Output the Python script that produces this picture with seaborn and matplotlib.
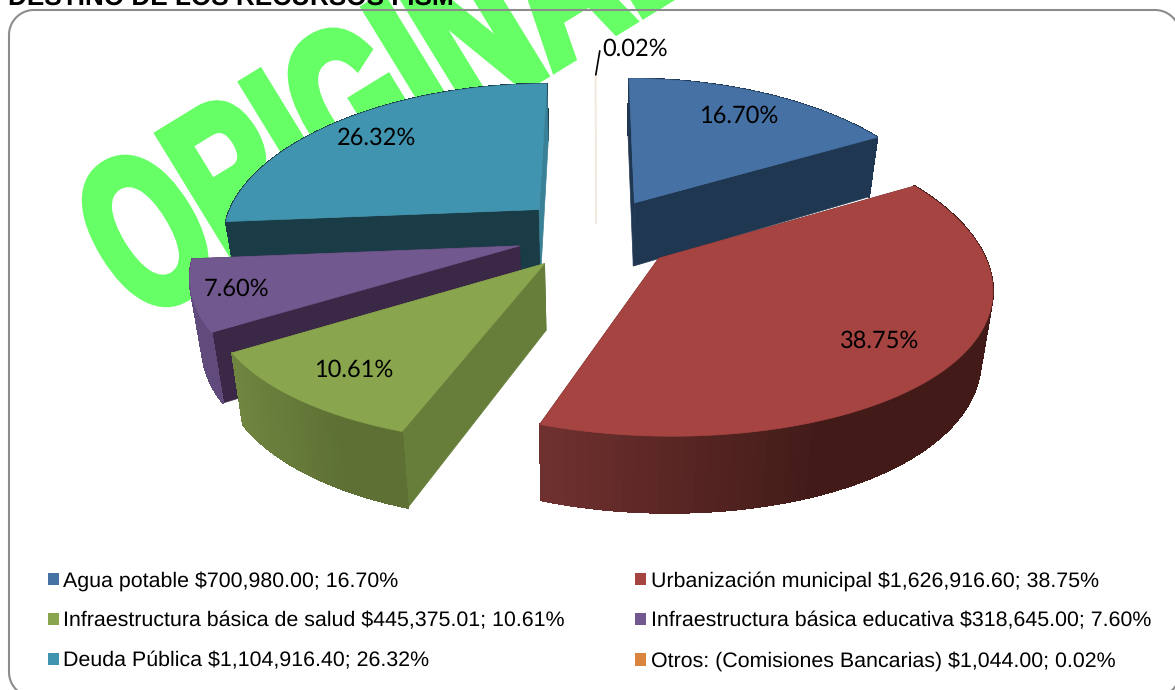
import numpy as np
import seaborn as sns
import matplotlib
matplotlib.use("Agg")
import matplotlib.pyplot as plt
import matplotlib.colors as mcolors
from matplotlib.patches import Patch
from matplotlib.patheffects import AbstractPathEffect
from matplotlib.transforms import Affine2D

# Data
names = ["Agua potable", "Urbanización municipal", "Infraestructura básica de salud",
         "Infraestructura básica educativa", "Deuda Pública", "Otros: (Comisiones Bancarias)"]
amounts = ["$700,980.00", "$1,626,916.60", "$445,375.01", "$318,645.00", "$1,104,916.40", "$1,044.00"]
percents = [16.70, 38.75, 10.61, 7.60, 26.32, 0.02]

# Colours per slice
top_colors = sns.color_palette(["#4671A5", "#A64442", "#89A54E", "#71588F", "#4194AF", "#F3E6DA"])
legend_colors = sns.color_palette(["#4671A5", "#A64442", "#89A54E", "#71588F", "#4194AF", "#DB843D"])
cut_start = ["#203752", "#421B18", "#667E3A", "#3A2846", "#1A3C47", "#F3E6DA"]
cut_end = ["#203752", "#421B18", "#667E3A", "#3A2846", "#3A8096", "#F3E6DA"]
wall_light = ["#203752", "#713230", "#6F8540", "#604B7C", "#1A3C47", "#F3E6DA"]
wall_dark = ["#203752", "#421B18", "#5E7034", "#604B7C", "#1A3C47", "#F3E6DA"]
label_radius = [0.78, 0.78, 0.80, 0.87, 0.80, 1.0]

# Pie geometry, in pixels of the picture
cx, cy = 596, 234
rx, ry = 318, 148
depth = 65
persp = 0.13
persp_x = 0.17
explode = 0.25


class Squeeze(AbstractPathEffect):
    # narrows the glyphs and thickens them, no condensed font is installed
    def __init__(self, sx, stroke):
        super().__init__()
        self.sx = sx
        self.stroke = stroke

    def draw_path(self, renderer, gc, tpath, affine, rgbFace=None):
        pre = Affine2D().scale(self.sx, 1)
        gc0 = renderer.new_gc()
        gc0.copy_properties(gc)
        gc0.set_linewidth(self.stroke)
        gc0.set_foreground(rgbFace)
        gc0.set_joinstyle("miter")
        renderer.draw_path(gc0, tpath, pre + affine, rgbFace)
        gc0.restore()


def project(u, v, z=0.0):
    w = 1 + persp * v
    x = cx + rx * u / (1 + persp_x * v) * (1 - 0.03 * z)
    y = cy - ry * v / w + depth * z / w
    return x, y


def slice_outline(a0, a1, mid):
    ox, oy = explode * np.sin(mid), explode * np.cos(mid)
    ang = np.linspace(a0, a1, 80)
    return ang, ox, oy, ox + np.sin(ang), oy + np.cos(ang)


def rounded_frame(x0, y0, x1, y1, r):
    # plain polyline, the clipper at the canvas edge bends bezier corners
    t = np.linspace(0, np.pi / 2, 30)
    xs = np.r_[x0 + r - r * np.cos(t), x1 - r + r * np.sin(t),
               x1 - r + r * np.cos(t), x0 + r - r * np.sin(t), x0]
    ys = np.r_[y0 + r - r * np.sin(t), y0 + r - r * np.cos(t),
               y1 - r + r * np.sin(t), y1 - r + r * np.cos(t), y0 + r]
    return xs, ys


sns.set_theme(style="white")
plt.rcParams["font.family"] = ["Liberation Sans", "DejaVu Sans"]
plt.rcParams["text.hinting"] = "no_hinting"

fig = plt.figure(figsize=(11.75, 6.9), dpi=100)
ax = fig.add_axes([0, 0, 1, 1])
ax.set_xlim(0, 1175)
ax.set_ylim(690, 0)
ax.axis("off")

# Title, cut by the top of the picture
ax.text(8, 5, "DESTINO DE LOS RECURSOS FISM", fontsize=18.8, fontweight="bold",
        color="black", ha="left", va="baseline", zorder=2)

# Watermark
wm = ax.text(140, 323, "ORIGINAL", fontsize=158, fontweight="bold", color="#66FF66",
             rotation=31.5, rotation_mode="anchor", ha="left", va="baseline", zorder=1)
wm.set_path_effects([Squeeze(0.62, 6)])

# Frame
fx, fy = rounded_frame(9, 10, 1180, 697, 25)
ax.plot(fx, fy, color="#8C8C8C", lw=1.5, zorder=2)

# Slices
edges = np.radians(np.concatenate([[0], np.cumsum(percents)]) * 3.6)
mids = (edges[:-1] + edges[1:]) / 2
order = np.argsort(-np.cos(mids))


def draw_wall(k, us, vs, c0, c1, xs_top, zo):
    t = min((xs_top[k] - xs_top.min()) / (xs_top.max() - xs_top.min() + 1e-6) * 1.6, 1)
    xa, ya = project(us[k], vs[k])
    xb, yb = project(us[k + 1], vs[k + 1])
    xc, yc = project(us[k + 1], vs[k + 1], 1)
    xd, yd = project(us[k], vs[k], 1)
    ax.fill([xa, xb, xc, xd], [ya, yb, yc, yd], color=c0 + (c1 - c0) * t, lw=0.8,
            antialiased=False, zorder=zo)


z = 3
for i in order:
    ang, ox, oy, us, vs = slice_outline(edges[i], edges[i + 1], mids[i])
    if percents[i] < 1:
        # too thin to have a body, only a pale line
        x0, y0 = project(us[0], vs[0])
        x1, y1 = project(ox, oy, 0.4)
        ax.plot([x0, x1], [y0, y1], color=top_colors[i], lw=1.3, zorder=z)
        z += 1
        continue
    c0 = np.array(mcolors.to_rgb(wall_light[i]))
    c1 = np.array(mcolors.to_rgb(wall_dark[i]))
    xs_top, _ = project(us, vs)
    # back part of the outer wall goes under the cuts
    for k in range(len(us) - 1):
        if np.cos(ang[k]) >= 0:
            draw_wall(k, us, vs, c0, c1, xs_top, z)
    # radial cuts
    for k, col in ((0, cut_start[i]), (-1, cut_end[i])):
        xa, ya = project(ox, oy)
        xb, yb = project(us[k], vs[k])
        xc, yc = project(us[k], vs[k], 1)
        xd, yd = project(ox, oy, 1)
        ax.fill([xa, xb, xc, xd], [ya, yb, yc, yd], color=col, lw=0.5, zorder=z + 1)
    # front part of the wall, small facets for the shading
    for k in range(len(us) - 1):
        if np.cos(ang[k]) < 0:
            draw_wall(k, us, vs, c0, c1, xs_top, z + 2)
    # top face
    xs, ys = project(np.r_[ox, us], np.r_[oy, vs])
    ax.fill(xs, ys, color=top_colors[i], lw=0.5, zorder=z + 3)
    z += 4

# Data labels
for i, p in enumerate(percents):
    ox, oy = explode * np.sin(mids[i]), explode * np.cos(mids[i])
    if p < 1:
        x0, y0 = project(ox + np.sin(mids[i]), oy + np.cos(mids[i]))
        ax.plot([x0, x0 + 4], [y0, y0 - 24], color="black", lw=1.2, zorder=z)
        ax.text(x0 + 7, y0 - 26, f"{p:.2f}%", fontsize=17, family="Lato",
                ha="left", va="center", color="black", zorder=z)
        continue
    r = label_radius[i]
    x, y = project(ox + r * np.sin(mids[i]), oy + r * np.cos(mids[i]))
    ax.text(x, y, f"{p:.2f}%", fontsize=17, family="Lato",
            ha="center", va="center", color="black", zorder=z)

# Legend, filled column by column so reorder for reading across
handles = [Patch(fc=c, ec="none", label=f"{n} {a}; {p:.2f}%")
           for c, n, a, p in zip(legend_colors, names, amounts, percents)]
handles = [handles[j] for j in (0, 2, 4, 1, 3, 5)]
ax.legend(handles=handles, ncol=2, loc="upper left", bbox_to_anchor=(48, 571),
          bbox_transform=ax.transData, frameon=False, fontsize=15.4, borderpad=0, borderaxespad=0,
          handlelength=0.52, handleheight=0.52, handletextpad=0.19, labelspacing=0.96,
          columnspacing=3.3, labelcolor="black")

fig.savefig("out.png", dpi=100)
